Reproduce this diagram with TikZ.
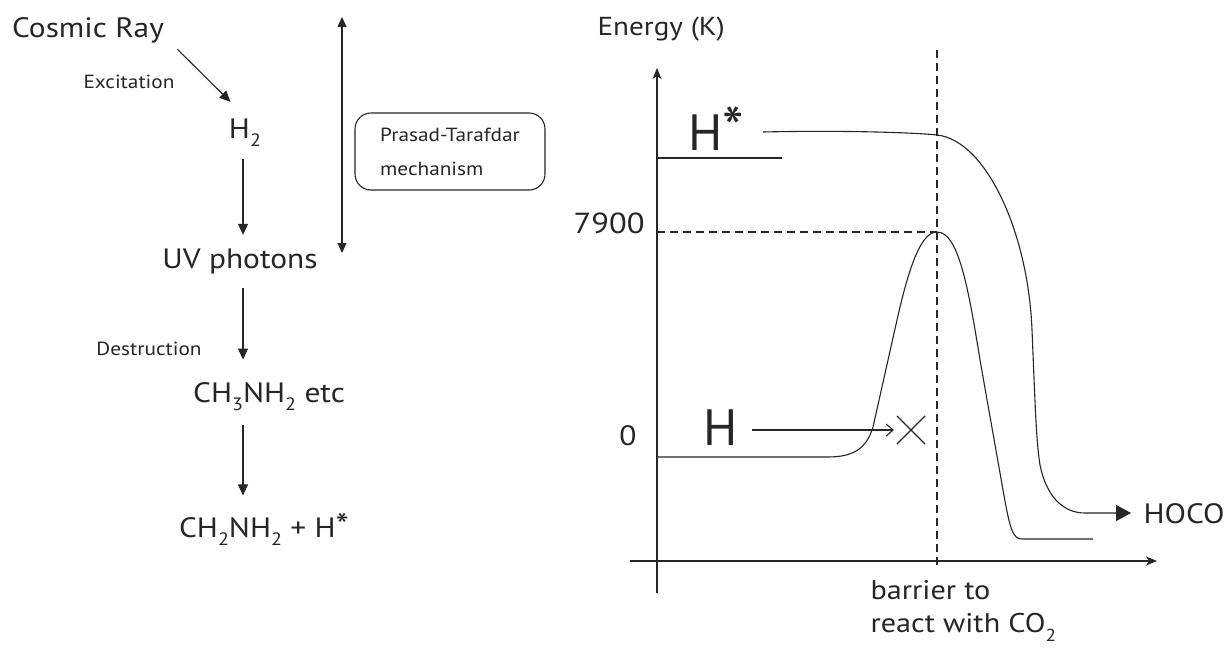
\documentclass[tikz,border=0pt]{standalone}
\usepackage{fontspec}
\setmainfont[FakeStretch=1.12]{PT Sans}
\newfontfamily\hugefam{PT Sans}
\usetikzlibrary{arrows.meta,calc}
\newcommand\mysub[1]{\raisebox{-0.32em}{\scalebox{0.64}{#1}}}
\definecolor{ink}{HTML}{262626}
\begin{document}
\begin{tikzpicture}[x=1pt,y=-1pt,line width=1.1pt,ink,
  big/.style={font=\fontsize{28}{32}\selectfont,inner sep=0pt,text=ink},
  small/.style={font=\fontsize{19}{23}\selectfont,inner sep=0pt,text=ink},
  huge/.style={font=\hugefam\fontsize{51}{55}\selectfont,inner sep=0pt,text=ink},
  arr/.style={draw=ink,-{Triangle[length=11pt,width=10pt]}},
  axis/.style={draw=ink,-{Stealth[length=11pt,width=9pt,inset=3pt]}},
  dashline/.style={draw=ink,dash pattern=on 8pt off 5pt},
  curve/.style={draw=ink,line width=1.1pt}]
\useasboundingbox[fill=white] (0,0) rectangle (1231,648);

% ---------- left flow ----------
\coordinate (ax) at (243,0);
\node[big,anchor=base] (cosmic) at (88,37) {Cosmic Ray};
\node[small,anchor=base] (excit) at (129,88) {Excitation};
\node[big,anchor=base] (h2) at (245,138) {H\mysub{2}};
\node[big,anchor=base] (uv) at (240,268) {UV photons};
\node[small,anchor=base] (destr) at (149,355) {Destruction};
\node[big,anchor=base] (ch3) at (269,402) {CH\mysub{3}NH\mysub{2} etc};
\node[big,anchor=base] (ch2) at (264,537) {CH\mysub{2}NH\mysub{2} + H\scalebox{1.2}{*}};

\draw[arr] ($(cosmic.south east)+(13,6)$) -- ($(h2.north west)+(2,-16)$);
\draw[arr,shorten <=11pt,shorten >=13pt] (h2.south -| ax) -- (uv.north -| ax);
\draw[arr,shorten <=14pt,shorten >=22pt] (uv.south -| ax) -- (ch3.north -| ax);
\draw[arr,shorten <=13pt,shorten >=17pt] (ch3.south -| ax) -- (ch2.north -| ax);

\coordinate (mtop) at (342,17);
\coordinate (mbot) at (342,253);
\draw[draw=ink,{Triangle[length=10pt,width=9pt]}-{Triangle[length=10pt,width=9pt]}] (mbot) -- (mtop);
\node[draw=ink,line width=1.1pt,rounded corners=16pt,minimum width=190pt,minimum height=77pt,
  align=left,font=\fontsize{19}{34}\selectfont,text=ink] (ptbox) at (450,151.5)
  {Prasad-Tarafdar\\mechanism};

% ---------- right energy diagram ----------
\node[font=\fontsize{26}{30}\selectfont,inner sep=0pt,anchor=base west,text=ink] (energy) at (597,35) {Energy (K)};
\coordinate (ybot) at (657,593);
\coordinate (ytop) at (657,68);
\coordinate (xl) at (630,561);
\coordinate (xr) at (1157,561);
\draw[axis] (ybot) -- (ytop);
\draw[axis] (xl) -- (xr);

\coordinate (peak) at (937,232);
\draw[dashline] (937,50) -- (937,568);
\draw[dashline] (657,232) -- (peak);

\node[font=\fontsize{29}{34}\selectfont,inner sep=0pt,anchor=base east,text=ink] (l7900) at (645,233) {7900};
\node[big,anchor=base] (l0) at (628,445) {0};

% H* level
\draw[curve] (657,158) -- (782,158);
\node[huge,anchor=base west] (hstar) at (688,150) {H\scalebox{1.2}{*}};

% H* curve to HOCO
\node[big,anchor=base west] (hoco) at (1143,523) {HOCO};
\draw[curve,-{Triangle[length=15pt,width=16pt]}] (763,132)
  .. controls (850,130) and (920,133) .. (937,135)
  .. controls (985,140) and (1028,230) .. (1032,330)
  .. controls (1035,400) and (1036,440) .. (1040,465)
  .. controls (1046,495) and (1062,513) .. (1085,513)
  -- ($(hoco.west |- 0,513)+(-12,0)$);

% barrier curve
\draw[curve] (657,457) -- (827,457)
  .. controls (852,457) and (866,450) .. (873,427)
  -- (897,320)
  .. controls (910,262) and (922,232) .. (peak)
  .. controls (958,232) and (968,285) .. (980,360)
  -- (1003,490)
  .. controls (1010,530) and (1013,539) .. (1022,539)
  -- (1093,539);

% H arrow to X
\node[huge,anchor=base west] (hnode) at (703,445) {H};
\node[minimum size=27pt,inner sep=0pt] (xmark) at (911,430) {};
\draw[draw=ink,line width=1.3pt] (xmark.north west) -- (xmark.south east);
\draw[draw=ink,line width=1.3pt] (xmark.south west) -- (xmark.north east);
\draw[draw=ink,-{Straight Barb[length=7pt,width=12pt]}] ($(hnode.east |- xmark.west)+(14,0)$) -- ($(xmark.west)+(-3,0)$);

\node[font=\fontsize{27}{33}\selectfont,inner sep=0pt,anchor=north west,align=left,text=ink] (barrier) at (870,580)
  {barrier to\\react with CO\mysub{2}};
\end{tikzpicture}
\end{document}
